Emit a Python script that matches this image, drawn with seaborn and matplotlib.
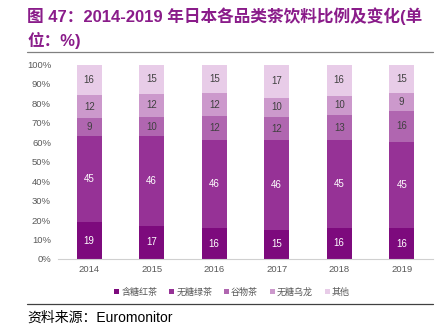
import numpy as np
import pandas as pd
import matplotlib
matplotlib.use("Agg")
import matplotlib.pyplot as plt
import seaborn as sns
from matplotlib.patches import Patch
from matplotlib.lines import Line2D

years = ["2014", "2015", "2016", "2017", "2018", "2019"]
series_names = ["含糖红茶", "无糖绿茶", "谷物茶", "无糖乌龙", "其他"]
sugar_black = [19, 17, 16, 15, 16, 16]
nosugar_green = [45, 46, 46, 46, 45, 45]
grain = [9, 10, 12, 12, 13, 16]
oolong = [12, 12, 12, 10, 10, 9]
other = [16, 15, 15, 17, 16, 15]
colors = ["#7d0a7d", "#963296", "#b066b0", "#cc99cc", "#e8cce8"]
label_colors = ["white", "white", "#404040", "#404040", "#404040"]

sns.set_theme(style="white")
plt.rcParams["font.family"] = ["Liberation Sans", "Noto Sans CJK SC", "DejaVu Sans"]

vals = np.array([sugar_black, nosugar_green, grain, oolong, other], dtype=float)
pct = vals / vals.sum(axis=0) * 100
cum = np.cumsum(pct, axis=0)

fig = plt.figure(figsize=(4.43, 3.36), dpi=100)
ax = fig.add_axes([58/443, 1-259/336, (433-58)/443, (259-64.5)/336])

for i in range(len(series_names) - 1, -1, -1):
    df = pd.DataFrame({"year": years, "v": cum[i]})
    sns.barplot(data=df, x="year", y="v", color=colors[i], width=0.4,
                saturation=1, ax=ax, edgecolor="none", linewidth=0)

for i in range(len(series_names)):
    for j in range(len(years)):
        mid = cum[i, j] - pct[i, j] / 2
        ax.text(j, mid, f"{int(vals[i, j])}", ha="center", va="center",
                fontsize=7, color=label_colors[i])

ax.set_ylim(0, 100)
ax.set_xlim(-0.5, len(years) - 0.5)
ax.set_yticks(np.arange(0, 101, 10))
ax.set_yticklabels([f"{t}%" for t in range(0, 101, 10)])
ax.set_xlabel("")
ax.set_ylabel("")
for s in ["top", "right", "left"]:
    ax.spines[s].set_visible(False)
ax.spines["bottom"].set_color("#d0d0d0")
ax.spines["bottom"].set_linewidth(0.8)
ax.tick_params(axis="both", labelsize=6.8, colors="#595959", length=0, pad=5)
ax.tick_params(axis="x", pad=4)
ax.set_xticks(np.arange(-0.5, len(years), 1), minor=True)
ax.tick_params(axis="x", which="minor", length=3, color="#d0d0d0", width=0.8, direction="out")

handles = [Patch(facecolor=c, edgecolor="none") for c in colors]
fig.legend(handles, series_names, loc="center", bbox_to_anchor=(232/443, 1-292/336),
           ncol=5, frameon=False, fontsize=6.5, handlelength=0.6, handleheight=0.6,
           handletextpad=0.2, columnspacing=1.3, labelcolor="#595959")

title_color = "#8a1c8a"
fig.text(27/443, 1-16/336, "图 47：2014-2019 年日本各品类茶饮料比例及变化(单",
         fontsize=12, fontweight="bold", color=title_color, ha="left", va="center")
fig.text(27/443, 1-40/336, "位：%)", fontsize=12, fontweight="bold",
         color=title_color, ha="left", va="center")
fig.add_artist(Line2D([27/443, 433/443], [1-52/336, 1-52/336], color="#808080", lw=0.9))
fig.add_artist(Line2D([27/443, 433/443], [1-304/336, 1-304/336], color="#404040", lw=0.9))
fig.text(27/443, 1-318/336, "资料来源：Euromonitor", fontsize=10, color="black",
         ha="left", va="center")

fig.savefig("out.png", dpi=100)
